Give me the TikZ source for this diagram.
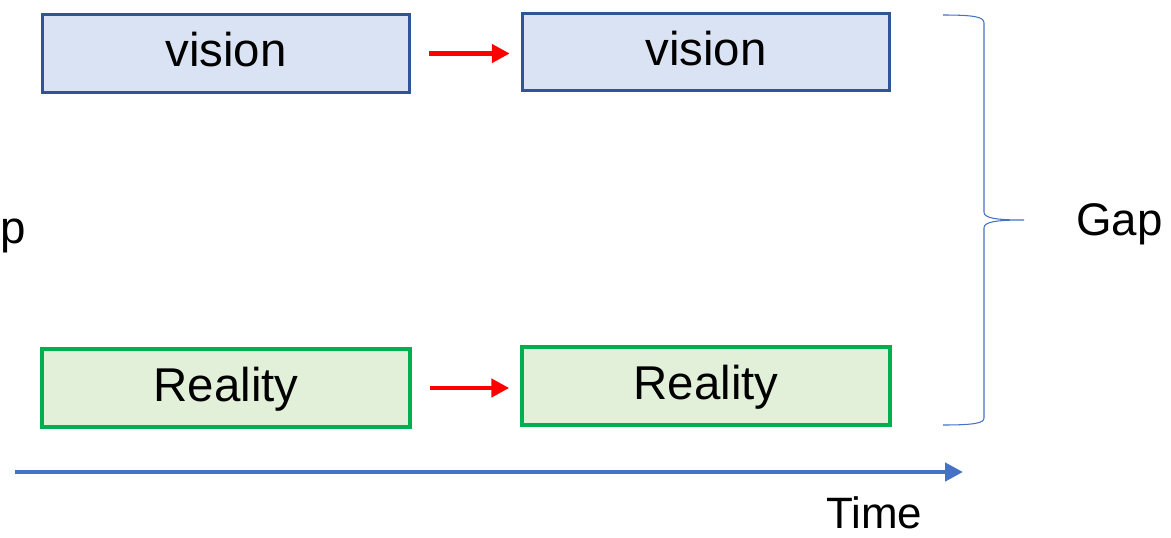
\documentclass[tikz,border=0pt]{standalone}
\usepackage{fontspec}
\setmainfont{Liberation Sans}
\usepackage{xcolor}
\usetikzlibrary{arrows.meta}
\definecolor{visionfill}{HTML}{DAE3F3}
\definecolor{visionline}{HTML}{2F5597}
\definecolor{realfill}{HTML}{E2F0D9}
\definecolor{realline}{HTML}{00B050}
\definecolor{timeblue}{HTML}{4472C4}
\begin{document}
\begin{tikzpicture}[x=0.02cm,y=-0.02cm,
    visionbox/.style={draw=visionline,fill=visionfill,line width=1.7pt,minimum width=7.35cm,minimum height=1.55cm,font=\fontsize{27}{32}\selectfont,text height=21pt,text depth=6pt},
    realbox/.style={draw=realline,fill=realfill,line width=2.3pt,minimum width=7.35cm,minimum height=1.55cm,font=\fontsize{27}{32}\selectfont,text height=21pt,text depth=6pt},
    nextarrow/.style={red,line width=2.8pt,-{Triangle[length=0.36cm,width=0.36cm]},shorten <=0.36cm,shorten >=0.22cm},
    label/.style={font=\fontsize{26}{31}\selectfont,inner sep=0pt}]
    \useasboundingbox (0,0) rectangle (1171,538);
    \node[visionbox] (vl) at (226,53.5) {vision};
    \node[visionbox] (vr) at (706,52) {vision};
    \node[realbox] (rl) at (226,388) {Reality};
    \node[realbox] (rr) at (706,386) {Reality};
    \draw[nextarrow] (vl.east) -- (vl.east -| vr.west);
    \draw[nextarrow] (rl.east) -- (rl.east -| rr.west);
    \draw[timeblue,line width=0.6pt] (943,15) .. controls (975,15) and (984,17) .. (984,23) -- (984,212) .. controls (984,218) and (995,220) .. (1024,220) .. controls (995,220) and (984,222) .. (984,228) -- (984,418) .. controls (984,423) and (975,425) .. (943,425);
    \node[label,anchor=base west] (gap) at (1076,235) {Gap};
    \node[label,anchor=base west] (gapcut) at (0,243) {p};
    \coordinate (t0) at (15,472);
    \coordinate (t1) at (963,472);
    \draw[timeblue,line width=2.8pt,-{Triangle[length=0.36cm,width=0.36cm]}] (t0) -- (t1);
    \node[font=\fontsize{25}{30}\selectfont,anchor=base west,inner sep=0pt] (time) at (826,528) {Time};
\end{tikzpicture}
\end{document}
